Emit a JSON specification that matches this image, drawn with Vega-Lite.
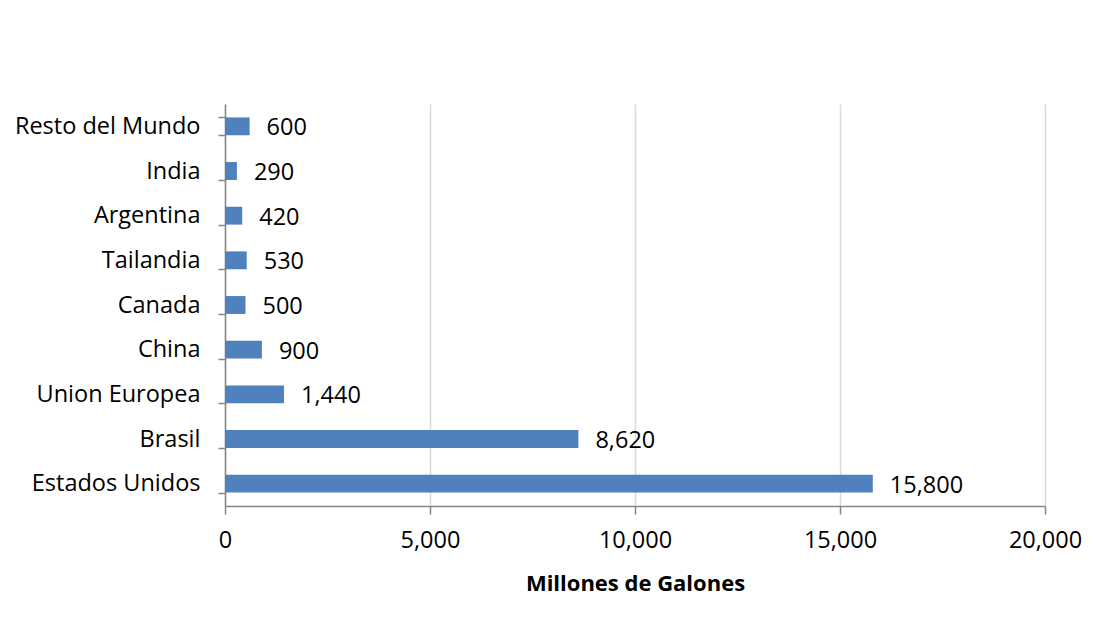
{
  "$schema": "https://vega.github.io/schema/vega-lite/v6.json",
  "autosize": {"type": "none"},
  "width": 820,
  "height": 402,
  "padding": {"left": 225, "top": 104, "right": 51, "bottom": 135},
  "background": "white",
  "config": {
    "view": {"stroke": null},
    "font": "Open Sans",
    "axis": {"labelFont": "Open Sans", "titleFont": "Open Sans"}
  },
  "data": {
    "values": [
      {"pais": "Resto del Mundo", "galones": 600},
      {"pais": "India", "galones": 290},
      {"pais": "Argentina", "galones": 420},
      {"pais": "Tailandia", "galones": 530},
      {"pais": "Canada", "galones": 500},
      {"pais": "China", "galones": 900},
      {"pais": "Union Europea", "galones": 1440},
      {"pais": "Brasil", "galones": 8620},
      {"pais": "Estados Unidos", "galones": 15800}
    ]
  },
  "encoding": {
    "y": {
      "field": "pais",
      "type": "nominal",
      "sort": ["Resto del Mundo", "India", "Argentina", "Tailandia", "Canada", "China", "Union Europea", "Brasil", "Estados Unidos"],
      "scale": {"paddingInner": 0.6, "paddingOuter": 0.3},
      "axis": {
        "title": null,
        "domainColor": "#868686",
        "domainWidth": 1.5,
        "tickColor": "#868686",
        "tickWidth": 1.5,
        "tickSize": 7,
        "tickBand": "extent",
        "labelPadding": 18,
        "labelFontSize": 23.5,
        "labelColor": "#000000",
        "labelLimit": 300,
        "grid": false
      }
    },
    "x": {
      "field": "galones",
      "type": "quantitative",
      "scale": {"domain": [0, 20000], "nice": false},
      "axis": {
        "title": "Millones de Galones",
        "titleFontSize": 22,
        "titleFontWeight": "bold",
        "titleColor": "#000000",
        "titlePadding": 22,
        "values": [0, 5000, 10000, 15000, 20000],
        "format": ",.0f",
        "labelFlush": false,
        "labelOverlap": false,
        "domainColor": "#868686",
        "domainWidth": 1.5,
        "tickColor": "#868686",
        "tickWidth": 1.5,
        "tickSize": 8,
        "labelPadding": 14,
        "labelFontSize": 23.5,
        "labelColor": "#000000",
        "grid": true,
        "gridColor": "#D9D9D9",
        "gridWidth": 1.5
      }
    }
  },
  "layer": [
    {"mark": {"type": "bar", "color": "#4F81BD"}},
    {
      "mark": {"type": "text", "align": "left", "baseline": "middle", "dx": 17, "dy": 2, "fontSize": 23.5, "color": "#000000"},
      "encoding": {"text": {"field": "galones", "type": "quantitative", "format": ",.0f"}}
    }
  ]
}
